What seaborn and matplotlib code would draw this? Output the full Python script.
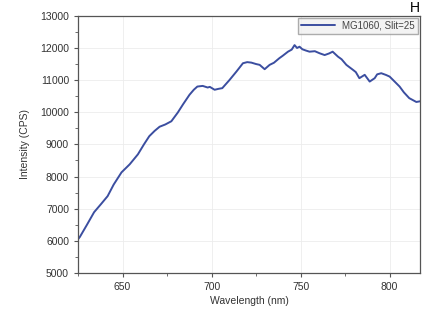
import numpy as np
import pandas as pd
import seaborn as sns
import matplotlib.pyplot as plt
from matplotlib.ticker import MultipleLocator

# spectrum
wavelength = [625.0, 626, 630, 634, 638, 641.6, 645, 649.4, 654, 658.6, 662, 665,
              668, 670.8, 674, 677.4, 681, 684, 687.6, 690, 692, 695, 697.8,
              699, 701.7, 704, 706, 710, 714, 717.6, 720, 722.3, 725, 727,
              729.8, 732.6, 735, 738, 740, 742.9, 745, 746.6, 748, 749.4, 751,
              753, 755, 758, 760.7, 763.5, 766, 768, 771, 773, 775.7, 777,
              779.4, 781, 783, 786, 788.8, 791.6, 793, 795.3, 798, 800, 802,
              805.6, 808, 811, 813, 815, 818]
intensity = [6050, 6120, 6500, 6890, 7150, 7390, 7750, 8130, 8380, 8690, 9000,
             9255, 9420, 9550, 9620, 9720, 9990, 10250, 10545, 10700, 10800, 10820,
             10770, 10790, 10700, 10730, 10750, 11000, 11270, 11525, 11560, 11545,
             11500, 11475, 11340, 11475, 11540, 11680, 11760, 11885, 11950, 12090,
             12000, 12040, 11960, 11920, 11885, 11900, 11835, 11780, 11830, 11885,
             11730, 11650, 11475, 11420, 11320, 11250, 11060, 11165, 10955, 11060,
             11180, 11215, 11160, 11110, 11000, 10800, 10620, 10440, 10380, 10320,
             10350]
series_label = "MG1060, Slit=25"

df = pd.DataFrame({"Wavelength (nm)": wavelength, "Intensity (CPS)": intensity,
                   "series": series_label})

sns.set_theme(style="white")
plt.rcParams["font.family"] = ["Liberation Sans", "DejaVu Sans"]

fig = plt.figure(figsize=(4.22, 3.17), dpi=100)
ax = fig.add_axes([0.185, 0.139, 0.81, 0.811])

sns.lineplot(data=df, x="Wavelength (nm)", y="Intensity (CPS)", hue="series",
             palette=["#3b4ea0"], linewidth=1.4, ax=ax)

ax.set_xlim(625, 817)
ax.set_ylim(5000, 13000)
ax.xaxis.set_major_locator(MultipleLocator(50))
ax.xaxis.set_minor_locator(MultipleLocator(25))
ax.yaxis.set_major_locator(MultipleLocator(1000))
ax.yaxis.set_minor_locator(MultipleLocator(500))
ax.grid(True, which="major", color="#ececec", linewidth=0.6)
ax.tick_params(which="major", direction="out", length=3, width=0.8, color="#555555",
               labelsize=7.5, labelcolor="#333333", bottom=True, left=True)
ax.tick_params(which="minor", direction="out", length=2, width=0.6, color="#555555",
               bottom=True, left=True)
for s in ax.spines.values():
    s.set_color("#555555")
    s.set_linewidth(0.9)

ax.set_xlabel("Wavelength (nm)", fontsize=7.5, color="#333333", labelpad=3)
ax.set_ylabel("Intensity (CPS)", fontsize=7.5, color="#333333", labelpad=7)

leg = ax.legend(loc="upper right", fontsize=7, frameon=True, fancybox=False,
                borderaxespad=0.2, handlelength=3.5, borderpad=0.3)
leg.get_frame().set_edgecolor("#999999")
leg.get_frame().set_facecolor("#f0f0f0")
for t in leg.get_texts():
    t.set_color("#444444")

# glyph at the top right corner
fig.text(0.972, 0.998, "H", fontsize=10, va="top", ha="left", color="black")

fig.savefig("out.png", dpi=100)
